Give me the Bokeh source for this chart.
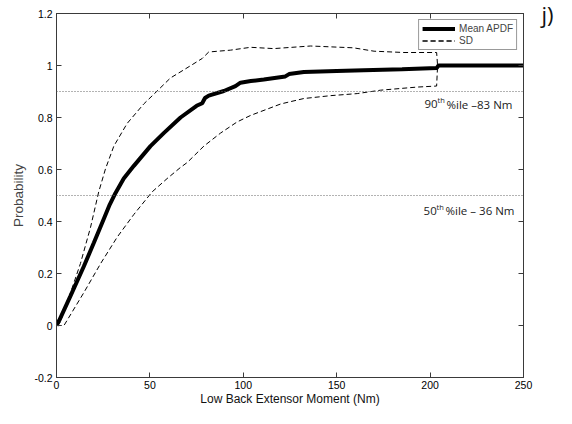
from bokeh.plotting import figure
from bokeh.models import (LinearAxis, Span, Label, FixedTicker, CustomJSTickFormatter, Range1d)
from bokeh.embed import file_html
from bokeh.resources import INLINE

# ---- data ----
mean_x = [0, 1.5, 7.5, 14.6, 20, 25.3, 28.5, 31.6, 36, 41.4, 50.3, 57.4, 66.4, 75, 78, 79.5, 81.5,
          89.6, 95.8, 98.5, 104, 111, 122.5, 124.5, 132.4, 150, 164.5, 185, 203.5, 204.5, 250]
mean_y = [0, 0.02, 0.114, 0.227, 0.318, 0.41, 0.465, 0.51, 0.565, 0.614, 0.69, 0.74, 0.80, 0.845,
          0.855, 0.875, 0.884, 0.902, 0.921, 0.934, 0.94, 0.946, 0.958, 0.967, 0.975, 0.979,
          0.982, 0.986, 0.99, 1.0, 1.0]

sd_up_x = [0, 1.8, 7.5, 12.8, 18.2, 22.6, 26.2, 30.7, 37.8, 46.7, 53.9, 61, 68.1, 78, 81.5,
           93.1, 103.9, 116.3, 136, 159, 170, 186, 203.5, 204, 250]
sd_up_y = [0, 0.01, 0.126, 0.238, 0.377, 0.514, 0.602, 0.69, 0.777, 0.852, 0.902, 0.952, 0.983,
           1.027, 1.052, 1.059, 1.07, 1.065, 1.075, 1.068, 1.055, 1.05, 1.05, 1.0, 1.0]

sd_lo_x = [0, 4, 14.6, 23.6, 32.5, 41.4, 51.2, 59.2, 66.4, 70, 78.9, 87.8, 96.7, 103.9, 120,
           132.4, 146.7, 161, 173.4, 193, 203.5, 204, 250]
sd_lo_y = [0, 0, 0.126, 0.238, 0.34, 0.427, 0.514, 0.565, 0.608, 0.627, 0.69, 0.74, 0.783, 0.808,
           0.852, 0.873, 0.884, 0.892, 0.905, 0.917, 0.921, 1.0, 1.0]

x_ticks = [0, 50, 100, 150, 200, 250]
y_ticks = [-0.2, 0, 0.2, 0.4, 0.6, 0.8, 1.0, 1.2]
p90_value = 0.9
p50_value = 0.5
p90_parts = ["90", "th", " %ile \u201383 Nm"]
p50_parts = ["50", "th", " %ile \u2013 36 Nm"]
panel_tag = "j)"

AXIS_COL = "#3a3a3a"
TICK_FONT = "Liberation Sans"

p = figure(width=556, height=408, output_backend="svg", toolbar_location=None,
           x_range=Range1d(0, 250), y_range=Range1d(-0.2, 1.2),
           min_border_left=56, min_border_right=33, min_border_top=13, min_border_bottom=27,
           x_axis_label="Low Back Extensor Moment (Nm)", y_axis_label="Probability")
p.grid.visible = False
p.outline_line_color = AXIS_COL
p.background_fill_color = "white"
p.border_fill_color = "white"

fmt = CustomJSTickFormatter(code="""
var s = Math.abs(tick) < 1e-9 ? '0' : tick.toFixed(1);
if (s.endsWith('.0')) { s = s.slice(0, -2); }
return s;
""")
blank_fmt = CustomJSTickFormatter(code="return '';")

for ax, ticks in ((p.xaxis[0], x_ticks), (p.yaxis[0], y_ticks)):
    ax.ticker = FixedTicker(ticks=ticks)
    ax.formatter = fmt
    ax.major_tick_in = 5
    ax.major_tick_out = 0
    ax.minor_tick_in = 0
    ax.minor_tick_out = 0
    ax.axis_line_color = AXIS_COL
    ax.major_tick_line_color = AXIS_COL
    ax.major_label_text_font = TICK_FONT
    ax.major_label_text_font_size = "10.5px"
    ax.major_label_text_color = "black"
    ax.axis_label_text_font = TICK_FONT
    ax.axis_label_text_font_style = "normal"

p.xaxis.major_label_standoff = 3
p.xaxis.axis_label_standoff = 0
p.xaxis.axis_label_text_font_size = "12px"
p.xaxis.axis_label_text_color = "#111111"
p.yaxis.major_label_standoff = 4
p.yaxis.axis_label_standoff = 5
p.yaxis.axis_label_text_font_size = "13.5px"
p.yaxis.axis_label_text_color = "#444444"

# mirrored box axes (ticks only); the right one carries the panel tag "j)"
for side, ticks in (("above", x_ticks), ("right", y_ticks)):
    ax = LinearAxis(ticker=FixedTicker(ticks=ticks), formatter=blank_fmt)
    ax.major_tick_in = 5
    ax.major_tick_out = 0
    ax.minor_tick_in = 0
    ax.minor_tick_out = 0
    ax.axis_line_color = AXIS_COL
    ax.major_tick_line_color = AXIS_COL
    ax.major_label_standoff = 0
    if side == "right":
        ax.axis_label = panel_tag
        ax.axis_label_text_font = "Open Sans"
        ax.axis_label_text_font_size = "22px"
        ax.axis_label_text_font_style = "normal"
        ax.axis_label_text_color = "#111111"
        ax.axis_label_standoff = 18
        props = ax.properties()
        if "axis_label_orientation" in props:
            ax.axis_label_orientation = "horizontal"
        if "axis_label_align" in props:
            ax.axis_label_align = "end"
    p.add_layout(ax, side)

# percentile reference lines
for val in (p90_value, p50_value):
    p.add_layout(Span(location=val, dimension="width", line_color="#666666",
                      line_dash="1 2", line_width=1))

p.line(sd_up_x, sd_up_y, line_color="black", line_width=1, line_dash="5 3", legend_label="SD")
p.line(sd_lo_x, sd_lo_y, line_color="black", line_width=1, line_dash="5 3", legend_label="SD")
p.line(mean_x, mean_y, line_color="black", line_width=4, legend_label="Mean APDF")

leg = p.legend[0]
leg.items = [it for it in leg.items if it.label.value == "Mean APDF"] + \
            [it for it in leg.items if it.label.value == "SD"]
leg.location = "top_right"
leg.margin = 6
leg.padding = 3
leg.spacing = 1
leg.label_standoff = 4
leg.glyph_width = 33
leg.glyph_height = 11
leg.label_height = 11
leg.label_text_font = TICK_FONT
leg.label_text_font_size = "10px"
leg.border_line_color = "#333333"
leg.border_line_width = 1
leg.background_fill_alpha = 1

ANN_FONT = "Open Sans"
for parts, x0, yv in ((p90_parts, 197, 0.851), (p50_parts, 196.5, 0.442)):
    p.add_layout(Label(x=x0, y=yv, text=parts[0], text_font=ANN_FONT, text_font_size="11.5px",
                       text_baseline="middle", text_color="#222222"))
    p.add_layout(Label(x=x0, y=yv, x_offset=13, y_offset=4, text=parts[1], text_font=ANN_FONT,
                       text_font_size="7.5px", text_baseline="middle", text_color="#222222"))
    p.add_layout(Label(x=x0, y=yv, x_offset=22, text=parts[2], text_font=ANN_FONT,
                       text_font_size="11.5px", text_baseline="middle", text_color="#222222"))

open("out.html", "w").write(file_html(p, INLINE))
